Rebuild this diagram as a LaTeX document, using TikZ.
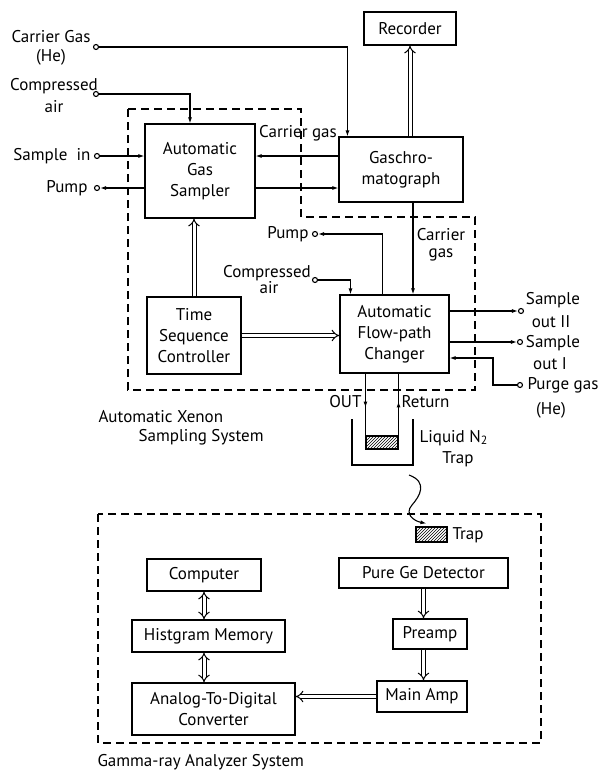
\documentclass[tikz,border=0pt]{standalone}
\usepackage{fontspec}
\setmainfont{PT Sans}
\usetikzlibrary{arrows.meta,patterns,decorations.markings}

\begin{document}
\begin{tikzpicture}[x=1pt,y=-1pt,line width=1.1pt,>={Latex[length=6pt,width=4pt]},
  every node/.style={font=\fontsize{17}{21}\selectfont,inner sep=1pt},
  box/.style={draw,align=center,inner sep=0pt},
  term/.style={draw,circle,fill=white,inner sep=0pt,minimum size=5pt},
  dbl/.style={double,double distance=3pt,line width=1pt},
  sysbox/.style={dash pattern=on 8pt off 5pt},
  midarrow/.style={postaction={decorate},decoration={markings,mark=at position 0.55 with {\arrow{>}}}},
  trapbox/.style={draw,pattern=north east lines,inner sep=0pt}]
  \useasboundingbox (0,0) rectangle (603,774);
  \node[box,minimum width=92,minimum height=33] (rec) at (410,28.5) {Recorder};
  \node[box,minimum width=124,minimum height=65] (gc) at (401,169.5) {Gaschro-\\matograph};
  \node[box,minimum width=110,minimum height=94] (ags) at (200,171) {Automatic\\Gas\\Sampler};
  \node[box,minimum width=94,minimum height=77] (tsc) at (194,335.5) {Time\\Sequence\\Controller};
  \node[box,minimum width=109,minimum height=78] (afc) at (394.5,334) {Automatic\\Flow-path\\Changer};
  \node[box,minimum width=114,minimum height=32] (comp) at (204,575) {Computer};
  \node[box,minimum width=153,minimum height=32] (hist) at (208.5,636) {Histgram Memory};
  \node[box,minimum width=163,minimum height=52] (adc) at (213.5,709) {Analog-To-Digital\\Converter};
  \node[box,minimum width=169,minimum height=30] (ge) at (423.5,573) {Pure Ge Detector};
  \node[box,minimum width=74,minimum height=30] (pre) at (430,634) {Preamp};
  \node[box,minimum width=90,minimum height=31] (amp) at (422,696.5) {Main Amp};
  \node[trapbox,minimum width=32,minimum height=13] (trap1) at (382,442.5) {};
  \node[trapbox,minimum width=31,minimum height=15] (trap2) at (431.5,534.5) {};

  \node[term] (cgin) at (96,47) {};
  \node[term] (ca1) at (96,94) {};
  \node[term] (sin) at (97,156) {};
  \node[term] (pump1) at (97,188) {};
  \node[term] (pump2) at (315,234) {};
  \node[term] (ca2) at (315,280) {};
  \node[term] (so2) at (521,311) {};
  \node[term] (so1) at (520,342) {};
  \node[term] (purge) at (520,385) {};
  \coordinate (pg) at (493,358);
  \coordinate (wv) at (409,475);

  \node (cglbl) at (51,37) {Carrier Gas};
  \node (helbl1) at (51,57) {(He)};
  \node (ca1lbl) at (54,86) {Compressed};
  \node (ca1lbl2) at (54,107) {air};
  \node[anchor=east] (sinlbl) at (92,156) {Sample\ \ in};
  \node[anchor=east] (p1lbl) at (89,188) {Pump};
  \node (cglbl2) at (298,133) {Carrier gas};
  \node[anchor=east] (p2lbl) at (310,234) {Pump};
  \node (ca2lbl) at (267,273) {Compressed};
  \node (ca2lbl2) at (269,288) {air};
  \node (cglbl3) at (441,235) {Carrier};
  \node (cglbl4) at (441,255) {gas};
  \node (so2lbl) at (553,300) {Sample};
  \node (so2lbl2) at (551,322) {out II};
  \node (so1lbl) at (553,343) {Sample};
  \node (so1lbl2) at (550,364) {out I};
  \node[anchor=west] (pglbl) at (526,385) {Purge gas};
  \node (helbl2) at (551,410) {(He)};
  \node[anchor=east] (outlbl) at (363,402) {OUT};
  \node[anchor=west] (retlbl) at (400,402) {Return};
  \node[anchor=west] (n2lbl) at (418,438) {Liquid N\textsubscript{2}};
  \node (traplbl) at (458,459) {Trap};
  \node[anchor=west] (xelbl) at (97,417) {Automatic Xenon};
  \node[anchor=west] (xelbl2) at (137,437) {Sampling System};
  \node[anchor=west] (trap2lbl) at (451,535) {Trap};
  \node[anchor=west] (galbl) at (96,762) {Gamma-ray Analyzer System};

  \draw[sysbox] (128,109) -- (301,109) -- (301,217) -- (475,217) -- (475,390) -- (128,390) -- cycle;
  \draw[sysbox] (98,514) rectangle (541,743);
  \draw (352,419) -- (352,465) -- (413,465) -- (413,419);

  \draw[->] (cgin) -| ([xshift=9pt]gc.north west);
  \draw[->] (ca1) -| ([xshift=-10pt]ags.north);
  \draw[->] (sin) -- (sin -| ags.west);
  \draw[->] (pump1 -| ags.west) -- (pump1);
  \draw[->] (gc.west |- sin) -- (ags.east |- sin);
  \draw[->] (ags.east |- pump1) -- (gc.west |- pump1);
  \draw[dbl,-Implies] (gc.north -| rec.south) -- (rec.south);
  \draw[dbl,-Implies] (tsc.north) -- (tsc.north |- ags.south);
  \draw[dbl,-Implies] (tsc.east) -- (tsc.east -| afc.west);
  \draw[->] ([xshift=12pt]gc.south) -- ([xshift=12pt]gc.south |- afc.north);
  \draw[->] ([xshift=-12pt]afc.north) |- (pump2);
  \draw[->] (ca2) -| ([xshift=-44pt]afc.north);
  \draw[->] (afc.east |- so2) -- (so2);
  \draw[->] (afc.east |- so1) -- (so1);
  \draw[->] (purge) -| (pg) -- (pg -| afc.east);
  \draw[midarrow] (trap1.north west |- afc.south) -- (trap1.north west);
  \draw[midarrow] (trap1.north east) -- (trap1.north east |- afc.south);
  \draw[->] (wv) .. controls (428,482) and (420,496) .. (412,505) .. controls (404,514) and (414,521) .. ([xshift=11pt,yshift=3pt]trap2.north west);

  \draw[dbl,Implies-Implies] (comp.south) -- (comp.south |- hist.north);
  \draw[dbl,Implies-Implies] (comp.south |- hist.south) -- (comp.south |- adc.north);
  \draw[dbl,-Implies] (ge.south) -- (ge.south |- pre.north);
  \draw[dbl,-Implies] (ge.south |- pre.south) -- (ge.south |- amp.north);
  \draw[dbl,-Implies] (amp.west) -- (amp.west -| adc.east);
\end{tikzpicture}
\end{document}
